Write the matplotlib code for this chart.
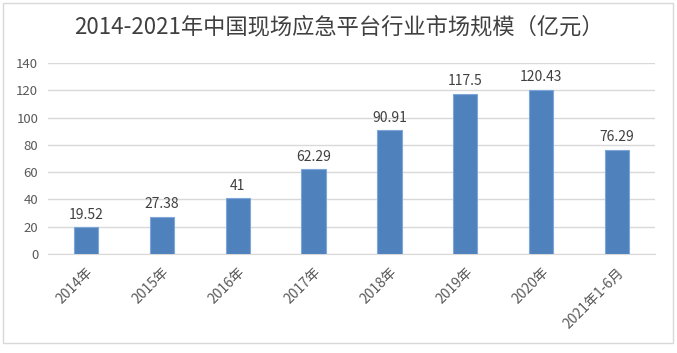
import matplotlib
matplotlib.use('Agg')
import matplotlib.pyplot as plt
from matplotlib.patches import Rectangle

plt.rcParams['font.family'] = ['Noto Sans CJK SC', 'DejaVu Sans']

years = ['2014年', '2015年', '2016年', '2017年', '2018年', '2019年', '2020年', '2021年1-6月']
values = [19.52, 27.38, 41, 62.29, 90.91, 117.5, 120.43, 76.29]
value_labels = ['19.52', '27.38', '41', '62.29', '90.91', '117.5', '120.43', '76.29']

fig = plt.figure(figsize=(6.77, 3.53), dpi=100)
fig.patches.append(Rectangle((3 / 677, 1 - 343 / 353), 670 / 677, 340 / 353,
                             transform=fig.transFigure, fill=False,
                             edgecolor='#D9D9D9', linewidth=1))
ax = fig.add_axes([48 / 677, 1 - 254 / 353, 607 / 677, 191 / 353])

x = range(len(years))
ax.bar(x, values, width=0.32, color='#4F81BD', edgecolor='#7EA6D8', linewidth=0.8, zorder=3)
for xi, v, lab in zip(x, values, value_labels):
    ax.text(xi, v + 4, lab, ha='center', va='bottom', fontsize=10, color='#404040')

ax.set_xlim(-0.5, len(years) - 0.5)
ax.set_ylim(0, 140)
ax.set_yticks(range(0, 141, 20))
ax.grid(axis='y', color='#D9D9D9', linewidth=1, zorder=0)
for s in ['top', 'right', 'left']:
    ax.spines[s].set_visible(False)
ax.spines['bottom'].set_color('#D9D9D9')
ax.tick_params(axis='both', length=0, labelsize=9.5, colors='#595959')
ax.tick_params(axis='y', pad=7)
ax.set_xticks(list(x))
ax.set_xticklabels(years, rotation=45, ha='right', rotation_mode='anchor', fontsize=10)
ax.tick_params(axis='x', pad=8)

fig.text(0.5, 1 - 27 / 353, '2014-2021年中国现场应急平台行业市场规模（亿元）',
         ha='center', va='center', fontsize=16, color='#404040')

fig.savefig('out.png', dpi=100)
